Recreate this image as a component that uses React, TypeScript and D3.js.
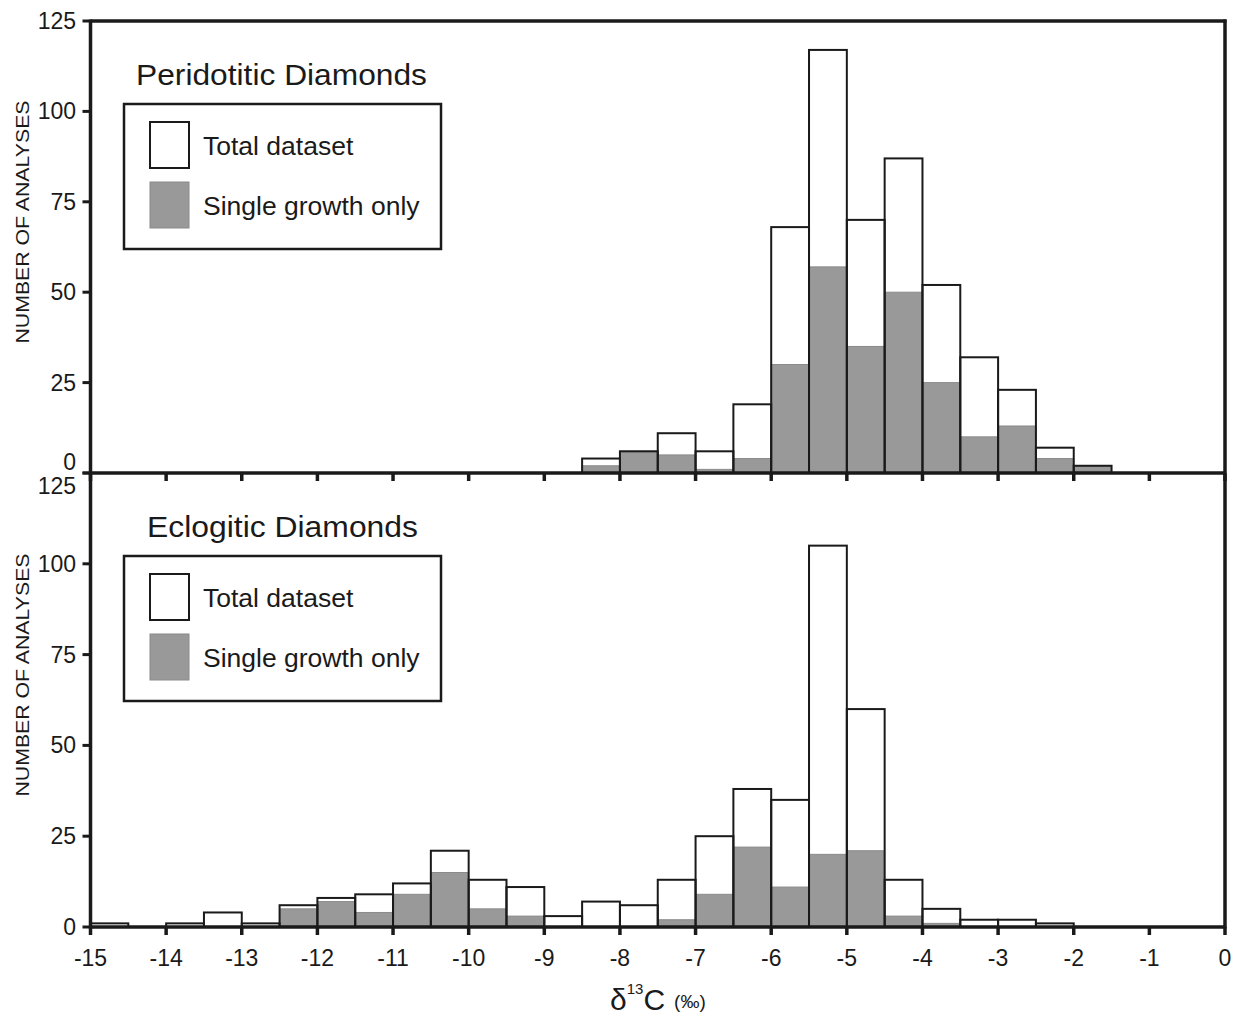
import React from "react";
import * as d3 from "d3";

// ---------- DATA ----------
const periBinStarts = [-8.5, -8, -7.5, -7, -6.5, -6, -5.5, -5, -4.5, -4, -3.5, -3, -2.5, -2];
const periTotal = [4, 6, 11, 6, 19, 68, 117, 70, 87, 52, 32, 23, 7, 2];
const periSingle = [2, 6, 5, 1, 4, 30, 57, 35, 50, 25, 10, 13, 4, 2];

const ecloBinStarts = [-15, -14.5, -14, -13.5, -13, -12.5, -12, -11.5, -11, -10.5, -10, -9.5, -9, -8.5, -8, -7.5, -7, -6.5, -6, -5.5, -5, -4.5, -4, -3.5, -3, -2.5];
const ecloTotal = [1, 0, 1, 4, 1, 6, 8, 9, 12, 21, 13, 11, 3, 7, 6, 13, 25, 38, 35, 105, 60, 13, 5, 2, 2, 1];
const ecloSingle = [0, 0, 0, 0, 0, 5, 7, 4, 9, 15, 5, 3, 0, 0, 0, 2, 9, 22, 11, 20, 21, 3, 1, 0, 0, 0];

const binWidth = 0.5;
const xTicks = [-15, -14, -13, -12, -11, -10, -9, -8, -7, -6, -5, -4, -3, -2, -1, 0];
const yTicks = [0, 25, 50, 75, 100, 125];
const panelTitles = ["Peridotitic Diamonds", "Eclogitic Diamonds"];
const legendLabels = ["Total dataset", "Single growth only"];
const yAxisLabel = "NUMBER OF ANALYSES";

// ---------- LAYOUT ----------
const W = 1234;
const H = 1015;
const left = 90.5;
const right = 1225;
const top1 = 21;
const mid = 473;
const bottom = 927;
const INK = "#1a1a1a";
const GRAY = "#999999";
const FONT = "'Liberation Sans', Arial, Helvetica, sans-serif";
const titleX = [136, 147];
const titleLen = [291, 271];

const x = d3.scaleLinear().domain([-15, 0]).range([left, right]);

function Panel({ starts, total, single, y0, y1, idx }) {
  const y = d3.scaleLinear().domain([0, 125]).range([y0, y1]);
  const bw = x(binWidth) - x(0);
  const off = idx * 452;
  return (
    <g>
      {starts.map((s, i) =>
        total[i] > 0 ? (
          <rect key={"w" + i} x={x(s)} y={y(total[i])} width={bw} height={y0 - y(total[i])} fill="#fff" />
        ) : null
      )}
      {starts.map((s, i) =>
        single[i] > 0 ? (
          <rect key={"g" + i} x={x(s)} y={y(single[i])} width={bw} height={y0 - y(single[i])} fill={GRAY} stroke="#8a8a8a" strokeWidth={1} />
        ) : null
      )}
      {starts.map((s, i) =>
        total[i] > 0 ? (
          <rect key={"o" + i} x={x(s)} y={y(total[i])} width={bw} height={y0 - y(total[i])} fill="none" stroke={INK} strokeWidth={2} />
        ) : null
      )}
      {/* y ticks */}
      {yTicks.map((t) => (
        <line key={"yt" + t} x1={left - 8} x2={left} y1={y(t)} y2={y(t)} stroke={INK} strokeWidth={3} />
      ))}
      {yTicks.map((t) => {
        let yy = y(t);
        if (idx === 0 && t === 0) yy = y0 - 11;
        if (idx === 1 && t === 125) yy = y1 + 13;
        return (
          <text key={"yl" + t} x={76} y={yy} textAnchor="end" dominantBaseline="central" fontSize={23} fontFamily={FONT} fill={INK}>
            {t}
          </text>
        );
      })}
      {/* x ticks at panel bottom */}
      {xTicks.map((t) => (
        <line key={"xt" + t} x1={x(t)} x2={x(t)} y1={y0} y2={y0 + 8} stroke={INK} strokeWidth={3.5} />
      ))}
      {/* y axis label */}
      <text
        transform={`translate(23,${(y0 + y1) / 2 - 25}) rotate(-90)`}
        textAnchor="middle"
        dominantBaseline="central"
        fontSize={18}
        textLength={243}
        lengthAdjust="spacingAndGlyphs"
        fontFamily={FONT}
        fill={INK}
      >
        {yAxisLabel}
      </text>
      {/* title & legend */}
      <text x={titleX[idx]} y={85 + off} fontSize={29} textLength={titleLen[idx]} lengthAdjust="spacingAndGlyphs" fontFamily={FONT} fill={INK}>
        {panelTitles[idx]}
      </text>
      <rect x={124} y={104 + off} width={317} height={145} fill="#fff" stroke={INK} strokeWidth={2.5} />
      <rect x={150} y={122 + off} width={39} height={46} fill="#fff" stroke={INK} strokeWidth={2} />
      <rect x={150} y={182 + off} width={39} height={46} fill={GRAY} stroke="#8a8a8a" strokeWidth={1} />
      <text x={203} y={155 + off} fontSize={26.5} fontFamily={FONT} fill={INK}>
        {legendLabels[0]}
      </text>
      <text x={203} y={215 + off} fontSize={26.5} fontFamily={FONT} fill={INK}>
        {legendLabels[1]}
      </text>
    </g>
  );
}

export default function App() {
  return (
    <div style={{ position: "absolute", left: 0, top: 0 }}>
      <svg width={W} height={H} style={{ display: "block", background: "#fff" }}>
        <Panel starts={periBinStarts} total={periTotal} single={periSingle} y0={mid} y1={top1} idx={0} />
        <Panel starts={ecloBinStarts} total={ecloTotal} single={ecloSingle} y0={bottom} y1={mid} idx={1} />
        {/* frame */}
        <line x1={left} x2={left} y1={top1 - 1.5} y2={bottom + 1.5} stroke={INK} strokeWidth={3.5} />
        <line x1={right} x2={right} y1={top1 - 1.5} y2={bottom + 1.5} stroke={INK} strokeWidth={3.5} />
        <line x1={left} x2={right + 1.5} y1={top1} y2={top1} stroke={INK} strokeWidth={3.5} />
        <line x1={left} x2={right} y1={mid} y2={mid} stroke={INK} strokeWidth={3.5} />
        <line x1={left} x2={right} y1={bottom} y2={bottom} stroke={INK} strokeWidth={3.5} />
        {/* x tick labels */}
        {xTicks.map((t) => (
          <text key={"xl" + t} x={x(t)} y={958} textAnchor="middle" dominantBaseline="central" fontSize={23} fontFamily={FONT} fill={INK}>
            {t}
          </text>
        ))}
        {/* x axis label */}
        <text x={610} y={1010} fontFamily={FONT} fill={INK}>
          <tspan fontSize={30}>δ</tspan>
          <tspan fontSize={15} dy={-16}>13</tspan>
          <tspan fontSize={30} dy={16}>C</tspan>
          <tspan fontSize={19} dx={9} dy={-2}>(‰)</tspan>
        </text>
      </svg>
    </div>
  );
}
